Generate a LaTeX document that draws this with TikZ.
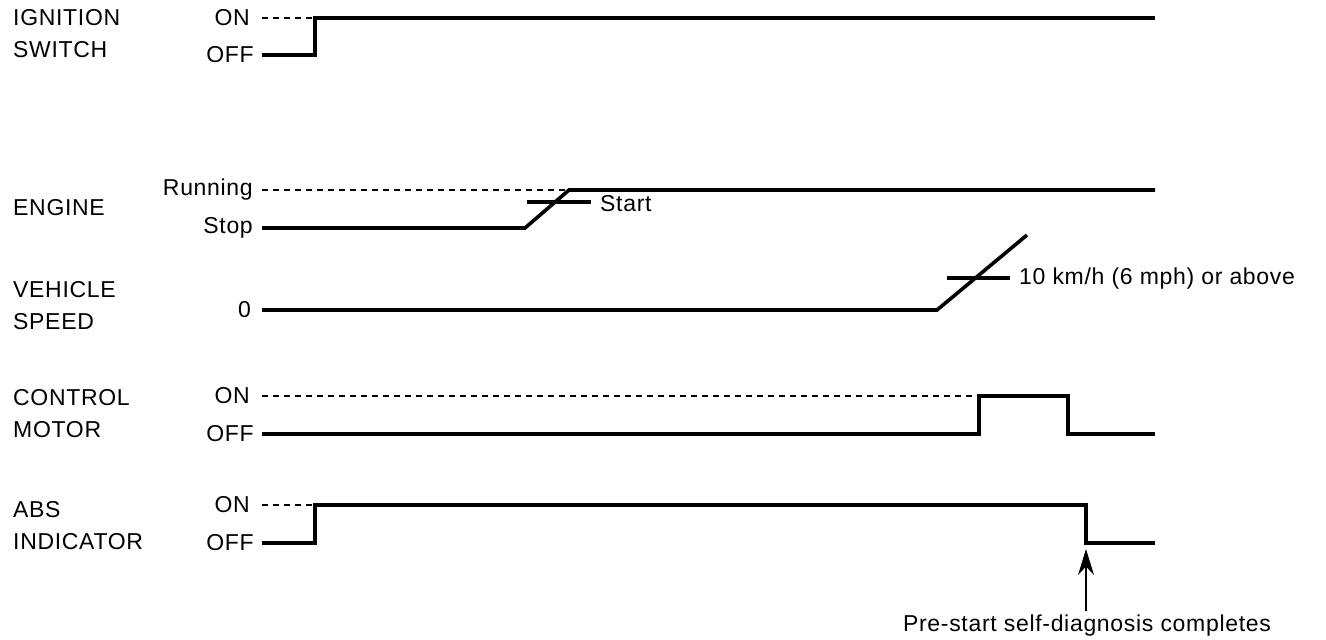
\documentclass[tikz,border=0pt]{standalone}
\usepackage{fontspec}
\setmainfont[LetterSpace=3]{Liberation Sans}
\usetikzlibrary{arrows.meta}
\begin{document}
\begin{tikzpicture}[x=1pt,y=-1pt,
  every node/.style={font=\fontsize{23}{32}\selectfont, inner sep=0pt},
  sigline/.style={line width=3.6pt, line join=miter, line cap=butt},
  reflevel/.style={line width=1.6pt, dash pattern=on 6pt off 5pt},
  tickmark/.style={line width=3.6pt},
  rowlabel/.style={anchor=west, align=left},
  lvltext/.style={anchor=east},
  notetext/.style={anchor=west},
  pointer/.style={line width=1.6pt, -{Stealth[length=26pt,width=16pt]}}]
\useasboundingbox (0,0) rectangle (1326,640);

% ---------- IGNITION SWITCH
\node[rowlabel] (ign) at (13,34) {IGNITION\\SWITCH};
\node[lvltext] (ignOn) at (250,18) {ON};
\node[lvltext] (ignOff) at (254,55) {OFF};
\coordinate (i0) at (262,55);
\coordinate (i1) at (315,55);
\coordinate (i2) at (315,18);
\coordinate (i3) at (1155,18);
\coordinate (id) at (262,18);
\draw[reflevel] (id) -- (i2);
\draw[sigline] (i0) -- (i1) -- (i2) -- (i3);

% ---------- ENGINE
\node[rowlabel] (eng) at (13,208) {ENGINE};
\node[lvltext] (engRun) at (253,190) {Running};
\node[lvltext] (engStop) at (253,228) {Stop};
\coordinate (e0) at (262,228);
\coordinate (e1) at (525,228);
\coordinate (e2) at (569,190);
\coordinate (e3) at (1155,190);
\coordinate (ed) at (262,190);
\draw[reflevel] (ed) -- (e2);
\draw[sigline] (e0) -- (e1) -- (e2) -- (e3);
\coordinate (et0) at (527,202);
\coordinate (et1) at (591,202);
\draw[tickmark] (et0) -- (et1);
\node[notetext] (start) at (600,204) {Start};

% ---------- VEHICLE SPEED
\node[rowlabel] (veh) at (13,306) {VEHICLE\\SPEED};
\node[lvltext] (vZero) at (251,310) {0};
\coordinate (v0) at (262,310);
\coordinate (v1) at (937,310);
\coordinate (v2) at (1027,235);
\draw[sigline] (v0) -- (v1) -- (v2);
\coordinate (vt0) at (947,278);
\coordinate (vt1) at (1010,278);
\draw[tickmark] (vt0) -- (vt1);
\node[notetext] (vnote) at (1019,279) {10 km/h (6 mph) or above};

% ---------- CONTROL MOTOR
\node[rowlabel] (cm) at (13,414) {CONTROL\\MOTOR};
\node[lvltext] (cmOn) at (250,396) {ON};
\node[lvltext] (cmOff) at (254,434) {OFF};
\coordinate (c0) at (262,434);
\coordinate (c1) at (979,434);
\coordinate (c2) at (979,396);
\coordinate (c3) at (1068,396);
\coordinate (c4) at (1068,434);
\coordinate (c5) at (1155,434);
\coordinate (cd) at (262,396);
\draw[reflevel] (cd) -- (c2);
\draw[sigline] (c0) -- (c1) -- (c2) -- (c3) -- (c4) -- (c5);

% ---------- ABS INDICATOR
\node[rowlabel] (abs) at (13,526) {ABS\\INDICATOR};
\node[lvltext] (absOn) at (250,505) {ON};
\node[lvltext] (absOff) at (254,543) {OFF};
\coordinate (a0) at (262,543);
\coordinate (a1) at (315,543);
\coordinate (a2) at (315,505);
\coordinate (a3) at (1086,505);
\coordinate (a4) at (1086,543);
\coordinate (a5) at (1155,543);
\coordinate (ad) at (262,505);
\draw[reflevel] (ad) -- (a2);
\draw[sigline] (a0) -- (a1) -- (a2) -- (a3) -- (a4) -- (a5);

% ---------- pointer
\node (diag) at (1087,626) {Pre-start self-diagnosis completes};
\coordinate (tip) at (1086,549);
\coordinate (tail) at (1086,611);
\draw[pointer] (tail) -- (tip);
\end{tikzpicture}
\end{document}
